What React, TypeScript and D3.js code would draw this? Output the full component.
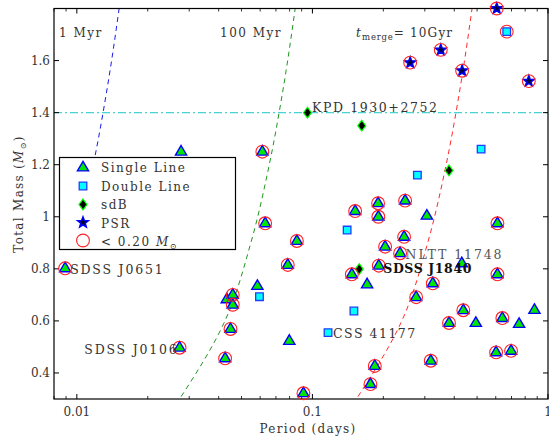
import React from 'react';
import * as d3 from 'd3';

// Double white dwarf binaries: orbital period (days) vs total mass (Msun).
// `low` marks systems with a component below 0.20 Msun.
const singleLine = [
  { p: 0.00892, m: 0.802, low: true, name: 'SDSS J0651' },
  { p: 0.0273, m: 0.497, low: true, name: 'SDSS J0106' },
  { p: 0.0277, m: 1.25, low: false },
  { p: 0.0613, m: 1.25, low: true },
  { p: 0.063, m: 0.975, low: true },
  { p: 0.0859, m: 0.907, low: true },
  { p: 0.0786, m: 0.815, low: true },
  { p: 0.0584, m: 0.734, low: false },
  { p: 0.0433, m: 0.683, low: false },
  { p: 0.0459, m: 0.7, low: true },
  { p: 0.0459, m: 0.662, low: true },
  { p: 0.0449, m: 0.569, low: true },
  { p: 0.0426, m: 0.456, low: true },
  { p: 0.0798, m: 0.523, low: false },
  { p: 0.0916, m: 0.322, low: true },
  { p: 0.2756, m: 0.691, low: true },
  { p: 0.184, m: 0.427, low: true },
  { p: 0.1763, m: 0.357, low: true },
  { p: 0.318, m: 0.447, low: true },
  { p: 0.38, m: 0.592, low: true },
  { p: 0.437, m: 0.641, low: true },
  { p: 0.494, m: 0.592, low: false },
  { p: 0.64, m: 0.611, low: true },
  { p: 0.754, m: 0.588, low: false },
  { p: 0.876, m: 0.642, low: false },
  { p: 0.602, m: 0.479, low: true },
  { p: 0.697, m: 0.485, low: true },
  { p: 0.2474, m: 1.062, low: true },
  { p: 0.19, m: 1.052, low: true },
  { p: 0.1518, m: 1.022, low: true },
  { p: 0.1905, m: 1.0, low: true },
  { p: 0.306, m: 1.004, low: false },
  { p: 0.61, m: 0.975, low: true },
  { p: 0.245, m: 0.923, low: true },
  { p: 0.2035, m: 0.885, low: true },
  { p: 0.2356, m: 0.86, low: true, name: 'NLTT 11748' },
  { p: 0.4306, m: 0.821, low: false },
  { p: 0.1913, m: 0.812, low: true, name: 'SDSS J1840' },
  { p: 0.147, m: 0.779, low: true },
  { p: 0.1707, m: 0.74, low: false },
  { p: 0.3243, m: 0.744, low: true },
  { p: 0.61, m: 0.779, low: true },
];

const doubleLine = [
  { p: 0.668, m: 1.711, low: true },
  { p: 0.52, m: 1.26, low: false },
  { p: 0.279, m: 1.16, low: false },
  { p: 0.0596, m: 0.693, low: false },
  { p: 0.15, m: 0.638, low: false },
  { p: 0.1165, m: 0.555, low: false, name: 'CSS 41177' },
  { p: 0.1404, m: 0.949, low: false },
];

const sdB = [
  { p: 0.0953, m: 1.4, low: false, name: 'KPD 1930+2752' },
  { p: 0.162, m: 1.35, low: false },
  { p: 0.38, m: 1.178, low: false },
  { p: 0.158, m: 0.799, low: false },
];

const psr = [
  { p: 0.606, m: 1.8, low: true },
  { p: 0.3507, m: 1.641, low: true },
  { p: 0.26, m: 1.592, low: true },
  { p: 0.432, m: 1.561, low: true },
  { p: 0.829, m: 1.521, low: true },
];

// Constant gravitational-wave merger time curves (mass, period).
const merge1Myr = [
  { m: 0.9, p: 0.0098 },
  { m: 1.2, p: 0.01174 },
  { m: 1.5, p: 0.01349 },
  { m: 1.85, p: 0.01539 },
];
const merge100Myr = [
  { m: 0.28, p: 0.0264 },
  { m: 0.6, p: 0.04253 },
  { m: 0.9, p: 0.05479 },
  { m: 1.2, p: 0.06559 },
  { m: 1.5, p: 0.0754 },
  { m: 1.85, p: 0.086 },
];
const merge10Gyr = [
  { m: 0.28, p: 0.1487 },
  { m: 0.6, p: 0.2396 },
  { m: 0.9, p: 0.3086 },
  { m: 1.2, p: 0.3695 },
  { m: 1.5, p: 0.4247 },
  { m: 1.85, p: 0.4845 },
];

const chandrasekharMass = 1.4;

const xMajorTicks = [0.01, 0.1, 1];
const xTickLabels = ['0.01', '0.1', '1'];
const xMinorTicks = [0.008, 0.009, 0.02, 0.03, 0.04, 0.05, 0.06, 0.07, 0.08, 0.09, 0.2, 0.3, 0.4, 0.5, 0.6, 0.7, 0.8, 0.9];
const yTicks = [0.4, 0.6, 0.8, 1.0, 1.2, 1.4, 1.6];
const yTickLabels = ['0.4', '0.6', '0.8', '1', '1.2', '1.4', '1.6'];

const legendItems = ['Single Line', 'Double Line', 'sdB', 'PSR'];

const FONT = "'DejaVu Serif', serif";
const TEXT = '#333';

const L = 54, R = 548, T = 8.5, B = 399;

const trianglePath = 'M0,-6.2L5.6,3.4L-5.6,3.4Z';
const squarePath = 'M-3.8,-3.8H3.8V3.8H-3.8Z';
const diamondPath = 'M0,-5.4L4,0L0,5.4L-4,0Z';
const starPath = (() => {
  const pts: string[] = [];
  for (let i = 0; i < 10; i++) {
    const r = i % 2 === 0 ? 5.8 : 2.4;
    const a = -Math.PI / 2 + (i * Math.PI) / 5;
    pts.push(`${(r * Math.cos(a)).toFixed(2)},${(r * Math.sin(a)).toFixed(2)}`);
  }
  return 'M' + pts.join('L') + 'Z';
})();

const Tri = ({ tx, ty }: { tx: number; ty: number }) => (
  <path d={trianglePath} transform={`translate(${tx},${ty})`} fill="#00e600" stroke="#0000ff" strokeWidth={1.4} strokeLinejoin="miter" />
);
const Sq = ({ tx, ty }: { tx: number; ty: number }) => (
  <path d={squarePath} transform={`translate(${tx},${ty})`} fill="#00ffff" stroke="#1f3cff" strokeWidth={1.3} />
);
const Dia = ({ tx, ty }: { tx: number; ty: number }) => (
  <path d={diamondPath} transform={`translate(${tx},${ty})`} fill="#000" stroke="#00ff00" strokeWidth={1.2} />
);
const Star = ({ tx, ty }: { tx: number; ty: number }) => (
  <path d={starPath} transform={`translate(${tx},${ty})`} fill="#000030" stroke="#0000ff" strokeWidth={1.4} strokeLinejoin="miter" />
);
const Ring = ({ tx, ty }: { tx: number; ty: number }) => (
  <circle cx={tx} cy={ty} r={6.4} fill="none" stroke="#ff2020" strokeWidth={1.1} />
);

const labelStyle: Record<string, { dx: number; dy: number; anchor: string; weight?: string; color?: string; spacing?: number }> = {
  'SDSS J0651': { dx: 5, dy: 5.5, anchor: 'start', spacing: 1.8 },
  'SDSS J0106': { dx: -1, dy: 6, anchor: 'end', spacing: 1.8 },
  'NLTT 11748': { dx: 5.5, dy: 6, anchor: 'start', color: '#555', spacing: 1.9 },
  'SDSS J1840': { dx: 4.5, dy: 7, anchor: 'start', weight: 'bold', color: '#111', spacing: 0.6 },
  'CSS 41177': { dx: 5, dy: 5, anchor: 'start', spacing: 1.5 },
  'KPD 1930+2752': { dx: 4.5, dy: -1, anchor: 'start', spacing: 1.6 },
};

export default function App() {
  const x = d3.scaleLog().domain([0.008, 1]).range([L, R]);
  const y = d3.scaleLinear().domain([0.3, 1.8]).range([B, T]);

  const curve = d3
    .line<{ m: number; p: number }>()
    .x((d) => x(d.p))
    .y((d) => y(d.m))
    .curve(d3.curveMonotoneY);

  const allLabelled = [...singleLine, ...doubleLine, ...sdB].filter((d: any) => d.name) as any[];
  const lowMass = [...singleLine, ...doubleLine, ...sdB, ...psr].filter((d) => d.low);

  return (
    <svg width={549} height={441} style={{ position: 'absolute', left: 0, top: 0, background: '#fff' }} fontFamily={FONT}>
      <defs>
        <clipPath id="plot-area">
          <rect x={L} y={T} width={R - L} height={B - T} />
        </clipPath>
      </defs>

      <g clipPath="url(#plot-area)">
        <line x1={L} x2={R} y1={y(chandrasekharMass)} y2={y(chandrasekharMass)} stroke="#45d3d6" strokeWidth={1.1} strokeDasharray="8,3,2,3" />
        <path d={curve(merge1Myr) || ''} fill="none" stroke="#1a1aee" strokeWidth={1} strokeDasharray="5,4" />
        <path d={curve(merge100Myr) || ''} fill="none" stroke="#1e961e" strokeWidth={1} strokeDasharray="5,4" />
        <path d={curve(merge10Gyr) || ''} fill="none" stroke="#ff2a2a" strokeWidth={1} strokeDasharray="5,4" />
      </g>

      {/* frame and ticks */}
      <rect x={L} y={T} width={R - L} height={B - T} fill="none" stroke="#000" strokeWidth={1.2} />
      {xMajorTicks.map((t) => (
        <g key={'xM' + t}>
          <line x1={x(t)} x2={x(t)} y1={B} y2={B - 5} stroke="#000" />
          <line x1={x(t)} x2={x(t)} y1={T} y2={T + 5} stroke="#000" />
        </g>
      ))}
      {xMinorTicks.map((t) => (
        <g key={'xm' + t}>
          <line x1={x(t)} x2={x(t)} y1={B} y2={B - 3} stroke="#000" strokeWidth={0.8} />
          <line x1={x(t)} x2={x(t)} y1={T} y2={T + 3} stroke="#000" strokeWidth={0.8} />
        </g>
      ))}
      {yTicks.map((t) => (
        <g key={'y' + t}>
          <line x1={L} x2={L + 5} y1={y(t)} y2={y(t)} stroke="#000" />
          <line x1={R} x2={R - 5} y1={y(t)} y2={y(t)} stroke="#000" />
        </g>
      ))}

      {xMajorTicks.map((t, i) => (
        <text key={'xl' + t} x={x(t)} y={416} textAnchor="middle" fontSize={12} fill={TEXT}>
          {xTickLabels[i]}
        </text>
      ))}
      {yTicks.map((t, i) => (
        <text key={'yl' + t} x={50} y={y(t) + 4.5} textAnchor="end" fontSize={12} fill={TEXT}>
          {yTickLabels[i]}
        </text>
      ))}

      <text x={308} y={433} textAnchor="middle" fontSize={12} fill={TEXT} letterSpacing={1.3}>
        Period (days)
      </text>
      <text transform="translate(23,194) rotate(-90)" textAnchor="middle" fontSize={12} fill={TEXT} letterSpacing={1.3}>
        Total Mass (<tspan fontStyle="italic">M</tspan>
        <tspan fontSize={8} dy={3}>⊙</tspan>
        <tspan dy={-3}>)</tspan>
      </text>

      {/* curve annotations */}
      <text x={59} y={37} fontSize={12} fill={TEXT} letterSpacing={1.5}>1 Myr</text>
      <text x={220} y={37} fontSize={12} fill={TEXT} letterSpacing={1.5}>100 Myr</text>
      <text x={356} y={37} fontSize={12} fill={TEXT} letterSpacing={1.2}>
        <tspan fontStyle="italic">t</tspan>
        <tspan fontSize={8.5} dy={3} letterSpacing={0.8}>merge</tspan>
        <tspan dy={-3}>= 10Gyr</tspan>
      </text>

      {/* markers */}
      {singleLine.map((d, i) => <Tri key={'s' + i} tx={x(d.p)} ty={y(d.m)} />)}
      {doubleLine.map((d, i) => <Sq key={'d' + i} tx={x(d.p)} ty={y(d.m)} />)}
      {sdB.map((d, i) => <Dia key={'b' + i} tx={x(d.p)} ty={y(d.m)} />)}
      {psr.map((d, i) => <Star key={'p' + i} tx={x(d.p)} ty={y(d.m)} />)}
      {lowMass.map((d, i) => <Ring key={'r' + i} tx={x(d.p)} ty={y(d.m)} />)}

      {allLabelled.map((d) => {
        const s = labelStyle[d.name];
        return (
          <text key={d.name} x={x(d.p) + s.dx} y={y(d.m) + s.dy} textAnchor={s.anchor as any} fontSize={12.5}
            fontWeight={s.weight || 'normal'} fill={s.color || TEXT} letterSpacing={s.spacing ?? 1.2}>
            {d.name}
          </text>
        );
      })}

      {/* legend */}
      <g>
        <rect x={59.5} y={157.5} width={176} height={92} fill="#fff" stroke="#000" strokeWidth={1.2} />
        <Tri tx={83} ty={167.5} />
        <Sq tx={83} ty={186} />
        <Dia tx={83} ty={204.5} />
        <Star tx={83} ty={222.5} />
        <Ring tx={83} ty={240.5} />
        {legendItems.map((t, i) => (
          <text key={t} x={101} y={172 + i * 18.5} fontSize={12} fill={TEXT} letterSpacing={1.5}>{t}</text>
        ))}
        <text x={101} y={245.5} fontSize={12} fill={TEXT} letterSpacing={1.5}>
          {'< 0.20 '}<tspan fontStyle="italic">M</tspan>
          <tspan fontSize={8} dy={3}>⊙</tspan>
        </text>
      </g>
    </svg>
  );
}
